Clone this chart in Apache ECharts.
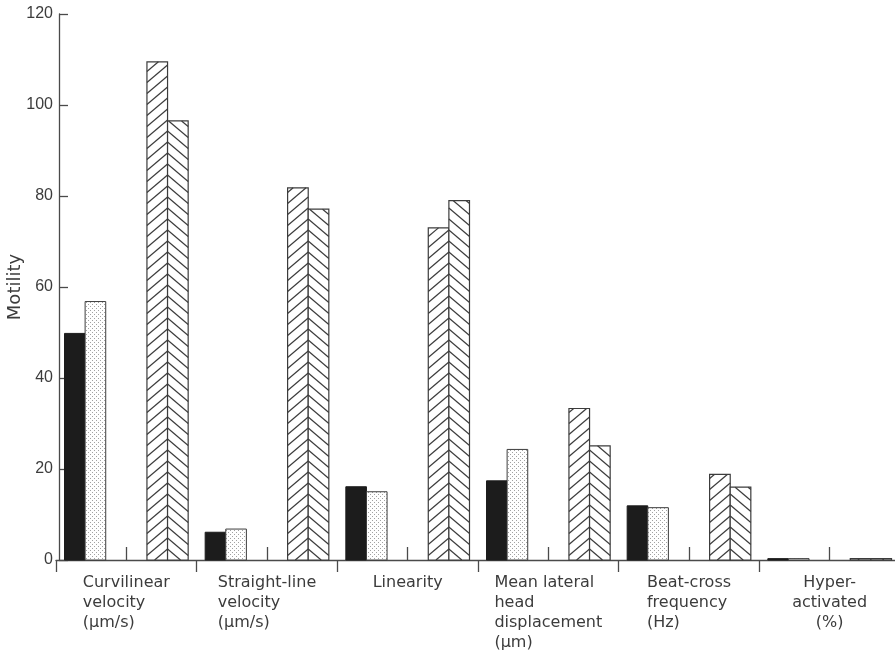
<!DOCTYPE html>
<html>
<head>
<meta charset="utf-8">
<script src="https://cdn.jsdelivr.net/npm/echarts@6/dist/echarts.min.js"></script>
<style>
  html, body { margin: 0; padding: 0; background: #fff; }
  #chart { width: 895px; height: 651px; }
</style>
</head>
<body>
<div id="chart"></div>
<script>
// Sperm motility parameters, four groups per parameter
const categories = [
  'Curvilinear\nvelocity\n(μm/s)',
  'Straight-line\nvelocity\n(μm/s)',
  'Linearity',
  'Mean lateral\nhead\ndisplacement\n(μm)',
  'Beat-cross\nfrequency\n(Hz)',
  'Hyper-\nactivated\n(%)'
];
const solidValues   = [49.8, 6.1, 16.1, 17.4, 11.9, 0.3];
const dottedValues  = [56.8, 6.8, 15.0, 24.3, 11.5, 0.3];
const risingValues  = [109.5, 81.8, 73.0, 33.3, 18.8, 0.3];
const fallingValues = [96.5, 77.1, 79.0, 25.1, 16.0, 0.3];

const yMin = 0, yMax = 120, yStep = 20;
const yName = 'Motility';

// line alignment inside each category label block
const labelLineAlign = ['left', 'left', 'left', 'left', 'left', 'center'];

const INK = '#3c3c3c';
const AXIS = '#4a4a4a';
const BAR_FRACTION = 20.6 / 140.6;   // bar width as a share of the category band
const HATCH_STEP = 11;                // vertical spacing of hatch lines (px)
const HATCH_SLOPE = 0.85;             // rise per px of hatch lines

function dotCanvas() {
  const c = document.createElement('canvas');
  c.width = 4; c.height = 4;
  const g = c.getContext('2d');
  g.fillStyle = '#ffffff';
  g.fillRect(0, 0, 4, 4);
  g.fillStyle = '#a2a2a2';
  g.fillRect(0, 0, 1, 1);
  g.fillRect(2, 2, 1, 1);
  return c;
}
const dotFill = { image: dotCanvas(), repeat: 'repeat' };

// Hatch lines clipped to a bar; both directions meet on the shared edge
function hatchLines(L, R, T, B, dir) {
  const out = [];
  const w = R - L, s = HATCH_SLOPE, p = HATCH_STEP;
  const n = Math.ceil((B - T + w * s) / p) + 1;
  for (let k = 1; k <= n; k++) {
    let lo, hi, yAt;
    if (dir === 'rise') {
      yAt = x => B - k * p + (R - x) * s;
      lo = Math.max(L, R - k * p / s);
      hi = Math.min(R, R + (B - T - k * p) / s);
    } else {
      yAt = x => B - k * p + (x - L) * s;
      lo = Math.max(L, L - (B - T - k * p) / s);
      hi = Math.min(R, L + k * p / s);
    }
    if (hi - lo > 0.3) {
      out.push({
        type: 'line',
        shape: { x1: lo, y1: yAt(lo), x2: hi, y2: yAt(hi) },
        style: { stroke: INK, lineWidth: 1.2 }
      });
    }
  }
  return out;
}

function barRenderer(slot, kind) {
  return function (params, api) {
    const i = api.value(0), v = api.value(1);
    const base = api.coord([i, 0]);
    const tip = api.coord([i, v]);
    const bw = api.size([1, 0])[0] * BAR_FRACTION;
    const L = base[0] + slot * bw, R = L + bw, T = tip[1], B = base[1];
    let style;
    if (kind === 'solid') style = { fill: '#1c1c1c', stroke: '#1c1c1c', lineWidth: 1 };
    else if (kind === 'dots') style = { fill: dotFill, stroke: INK, lineWidth: 1 };
    else style = { fill: '#ffffff', stroke: INK, lineWidth: 1.2 };
    const children = [{ type: 'rect', shape: { x: L, y: T, width: bw, height: B - T }, style }];
    if (kind === 'rise' || kind === 'fall') {
      children.push(...hatchLines(L, R, T, B, kind));
    }
    return { type: 'group', children };
  };
}

function barSeries(values, slot, kind) {
  return {
    type: 'custom',
    xAxisIndex: 0,
    yAxisIndex: 0,
    renderItem: barRenderer(slot, kind),
    data: values.map((v, i) => [i, v]),
    encode: { x: 0, y: 1 },
    silent: true,
    clip: false
  };
}

const labelFont = { fontFamily: 'DejaVu Sans', fontSize: 16, color: INK, lineHeight: 20 };

const chart = echarts.init(document.getElementById('chart'), null, { renderer: 'canvas' });
chart.setOption({
  animation: false,
  backgroundColor: '#ffffff',
  grid: { left: 56, top: 14, width: 844, height: 546, containLabel: false, outerBoundsMode: 'none' },
  xAxis: [
    {
      type: 'category',
      position: 'bottom',
      data: categories,
      boundaryGap: true,
      axisLine: { show: true, lineStyle: { color: AXIS, width: 1.3 } },
      axisTick: { show: true, inside: false, length: 12, lineStyle: { color: AXIS, width: 1.3 } },
      axisLabel: {
        show: true,
        interval: 0,
        margin: 13,
        align: 'center',
        verticalAlign: 'top',
        formatter: function (value, index) {
          const tag = labelLineAlign[index] === 'center' ? 'c' : 'l';
          return value.split('\n').map(s => '{' + tag + '|' + s + '}').join('\n');
        },
        rich: {
          l: Object.assign({ align: 'left' }, labelFont),
          c: Object.assign({ align: 'center' }, labelFont)
        }
      },
      splitLine: { show: false }
    },
    {
      type: 'category',
      position: 'bottom',
      data: categories,
      boundaryGap: true,
      axisLine: { show: false },
      axisTick: { show: true, inside: true, alignWithLabel: true, length: 13, lineStyle: { color: AXIS, width: 1.3 } },
      axisLabel: { show: false },
      splitLine: { show: false }
    }
  ],
  yAxis: {
    type: 'value',
    min: yMin,
    max: yMax,
    interval: yStep,
    offset: -3,
    name: yName,
    nameLocation: 'middle',
    nameRotate: 90,
    nameGap: 35,
    nameMoveOverlap: false,
    nameTextStyle: { fontFamily: 'DejaVu Sans', fontSize: 18, color: INK },
    axisLine: { show: true, lineStyle: { color: AXIS, width: 1.3 } },
    axisTick: { show: true, inside: true, length: 9, lineStyle: { color: AXIS, width: 1.3 } },
    axisLabel: { margin: 6, fontFamily: 'Liberation Sans', fontSize: 16, color: INK },
    splitLine: { show: false }
  },
  series: [
    barSeries(solidValues, -3, 'solid'),
    barSeries(dottedValues, -2, 'dots'),
    barSeries(risingValues, 1, 'rise'),
    barSeries(fallingValues, 2, 'fall')
  ]
});
</script>
</body>
</html>
